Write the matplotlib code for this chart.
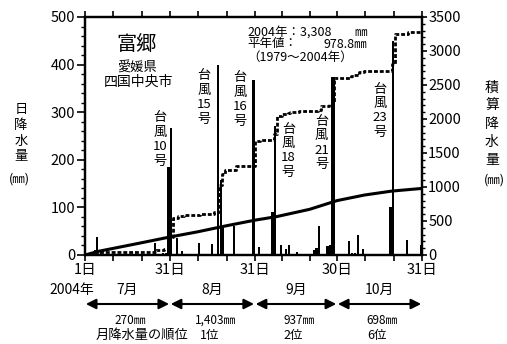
import numpy as np
import matplotlib
matplotlib.use('Agg')
import matplotlib.pyplot as plt
from matplotlib.ticker import MultipleLocator

plt.rcParams['font.family'] = ['Noto Sans CJK JP', 'DejaVu Sans']

W, H = 507, 344

# ---------------- data ----------------
month_names = ['7月', '8月', '9月', '10月']
month_len = [31, 31, 30, 31]
month_total_text = ['270㎜', '1,403㎜', '937㎜', '698㎜']
month_rank = ['', '1位', '2位', '6位']
boundary_labels = ['1日', '31日', '31日', '30日', '31日']

# day number counted from 1 July (1..123) and daily rainfall (mm)
rain_day = [4, 5, 13, 26, 29, 30, 31,
            32, 34, 36, 42, 47, 49, 50, 51, 55, 62,
            64, 69, 70, 72, 74, 75, 78, 84, 85, 86, 89, 90, 91,
            97, 98, 99, 100, 102, 112, 113, 118, 122, 123]
rain_mm = [10, 38, 3, 25, 5, 4, 185,
           267, 35, 9, 25, 23, 399, 158, 60, 60, 367,
           17, 90, 270, 22, 12, 20, 7, 10, 14, 61, 18, 21, 375,
           29, 4, 5, 42, 12, 101, 449, 31, 3, 22]
thick_days = [31, 69, 91, 112]

# normal-year cumulative rainfall (mm)
normal_day = [0, 5, 10, 20, 31, 41, 51, 62, 70, 82, 92, 102, 112, 123]
normal_mm = [0, 55, 95, 175, 265, 340, 425, 512, 565, 672, 800, 882, 940, 979]

typhoon_no = ['10', '15', '16', '18', '21', '23']
typhoon_pos = [(160, 117.5), (204, 76), (240, 78), (288.5, 129), (321.5, 121), (380, 89)]

# ---------------- figure ----------------
total_days = sum(month_len)
daily = np.zeros(total_days)
for d, v in zip(rain_day, rain_mm):
    daily[d - 1] = v
cum = np.concatenate([[0.0], np.cumsum(daily)])
bounds = np.concatenate([[0], np.cumsum(month_len)])

fig = plt.figure(figsize=(W / 100, H / 100), dpi=100)
ax = fig.add_axes([85 / W, 1 - 255 / H, 337 / W, 238 / H])

widths = [1.3 if d in thick_days else 0.75 for d in rain_day]
ax.bar(np.array(rain_day) - 0.5, rain_mm, width=widths, color='black', zorder=3)
ax.set_xlim(0, total_days)
ax.set_ylim(0, 500)

ax2 = ax.twinx()
ax2.set_ylim(0, 3500)
ax2.plot(np.arange(total_days + 1), cum, drawstyle='steps-post',
         ls=(0, (1.4, 0.7)), lw=2.0, color='black')
ax2.plot(normal_day, normal_mm, color='black', lw=2.2, solid_capstyle='butt')

# x ticks
xt, xl = [], []
for i, L in enumerate(month_len):
    for j in range(3):
        xt.append(bounds[i] + j * L / 3)
        xl.append(boundary_labels[i] if j == 0 else '')
xt.append(bounds[-1])
xl.append(boundary_labels[-1])
ax.set_xticks(xt)
ax.set_xticklabels(xl)
ax.tick_params(axis='x', which='major', direction='out', length=4, width=1.2,
               top=True, labelsize=10.5, pad=2)

ax.set_yticks(range(0, 501, 100))
ax.yaxis.set_minor_locator(MultipleLocator(20))
ax.tick_params(axis='y', which='major', direction='out', length=6, width=1.2,
               labelsize=10.5, pad=1)
ax.tick_params(axis='y', which='minor', direction='out', length=3, width=1.0)

ax2.set_yticks(range(0, 3501, 500))
ax2.yaxis.set_minor_locator(MultipleLocator(100))
ax2.tick_params(axis='y', which='major', direction='out', length=3.5, width=1.2,
                labelsize=10.5, pad=1)
ax2.tick_params(axis='y', which='minor', direction='out', length=2.5, width=1.0)

for a in (ax, ax2):
    for s in a.spines.values():
        s.set_linewidth(1.6)


def ftext(x, y, s, size, ha='center', va='center'):
    fig.text(x / W, 1 - y / H, s, fontsize=size, ha=ha, va=va)


def vtext(x, y0, parts, step, size):
    for k, p in enumerate(parts):
        ftext(x, y0 + k * step, p, size)


# titles
ftext(137, 45, '富郷', 14.5)
ftext(137, 68.5, '愛媛県', 9.5)
ftext(138, 82, '四国中央市', 10)

ftext(247, 32, '2004年：3,308', 9, ha='left')
ftext(367, 32, '㎜', 9, ha='right')
ftext(247, 44, '平年値：', 9, ha='left')
ftext(367, 44, '978.8㎜', 9, ha='right')
ftext(300, 57, '（1979～2004年）', 9)

# typhoon labels
for no, (x, y) in zip(typhoon_no, typhoon_pos):
    vtext(x, y, ['台', '風', no, '号'], 14.5, 9.5)

# axis labels
vtext(21, 109, ['日', '降', '水', '量'], 16, 9.5)
ftext(19, 179, '(㎜)', 9)
vtext(492, 88, ['積', '算', '降', '水', '量'], 18, 10)
ftext(494, 180, '(㎜)', 9)

# month arrows / texts below
ftext(72, 290, '2004年', 10)
gap = 0.3
for i in range(4):
    c = (bounds[i] + bounds[i + 1]) / 2
    ax.annotate('', xy=(bounds[i + 1] - gap, H - 304), xytext=(bounds[i] + gap, H - 304),
                xycoords=('data', 'figure pixels'), textcoords=('data', 'figure pixels'),
                arrowprops=dict(arrowstyle='<|-|>', color='black', lw=1.5,
                                mutation_scale=15, shrinkA=0, shrinkB=0),
                annotation_clip=False)
    ax.annotate(month_names[i], xy=(c, H - 290), xycoords=('data', 'figure pixels'),
                ha='center', va='center', fontsize=10, annotation_clip=False)
    ax.annotate(month_total_text[i], xy=(c + 1, H - 320), xycoords=('data', 'figure pixels'),
                ha='center', va='center', fontsize=8.5, annotation_clip=False)
    if month_rank[i]:
        ax.annotate(month_rank[i], xy=(c - 1, H - 335), xycoords=('data', 'figure pixels'),
                    ha='center', va='center', fontsize=9, annotation_clip=False)
ftext(142, 335, '月降水量の順位', 9.5)

fig.savefig('out.png', dpi=100)
